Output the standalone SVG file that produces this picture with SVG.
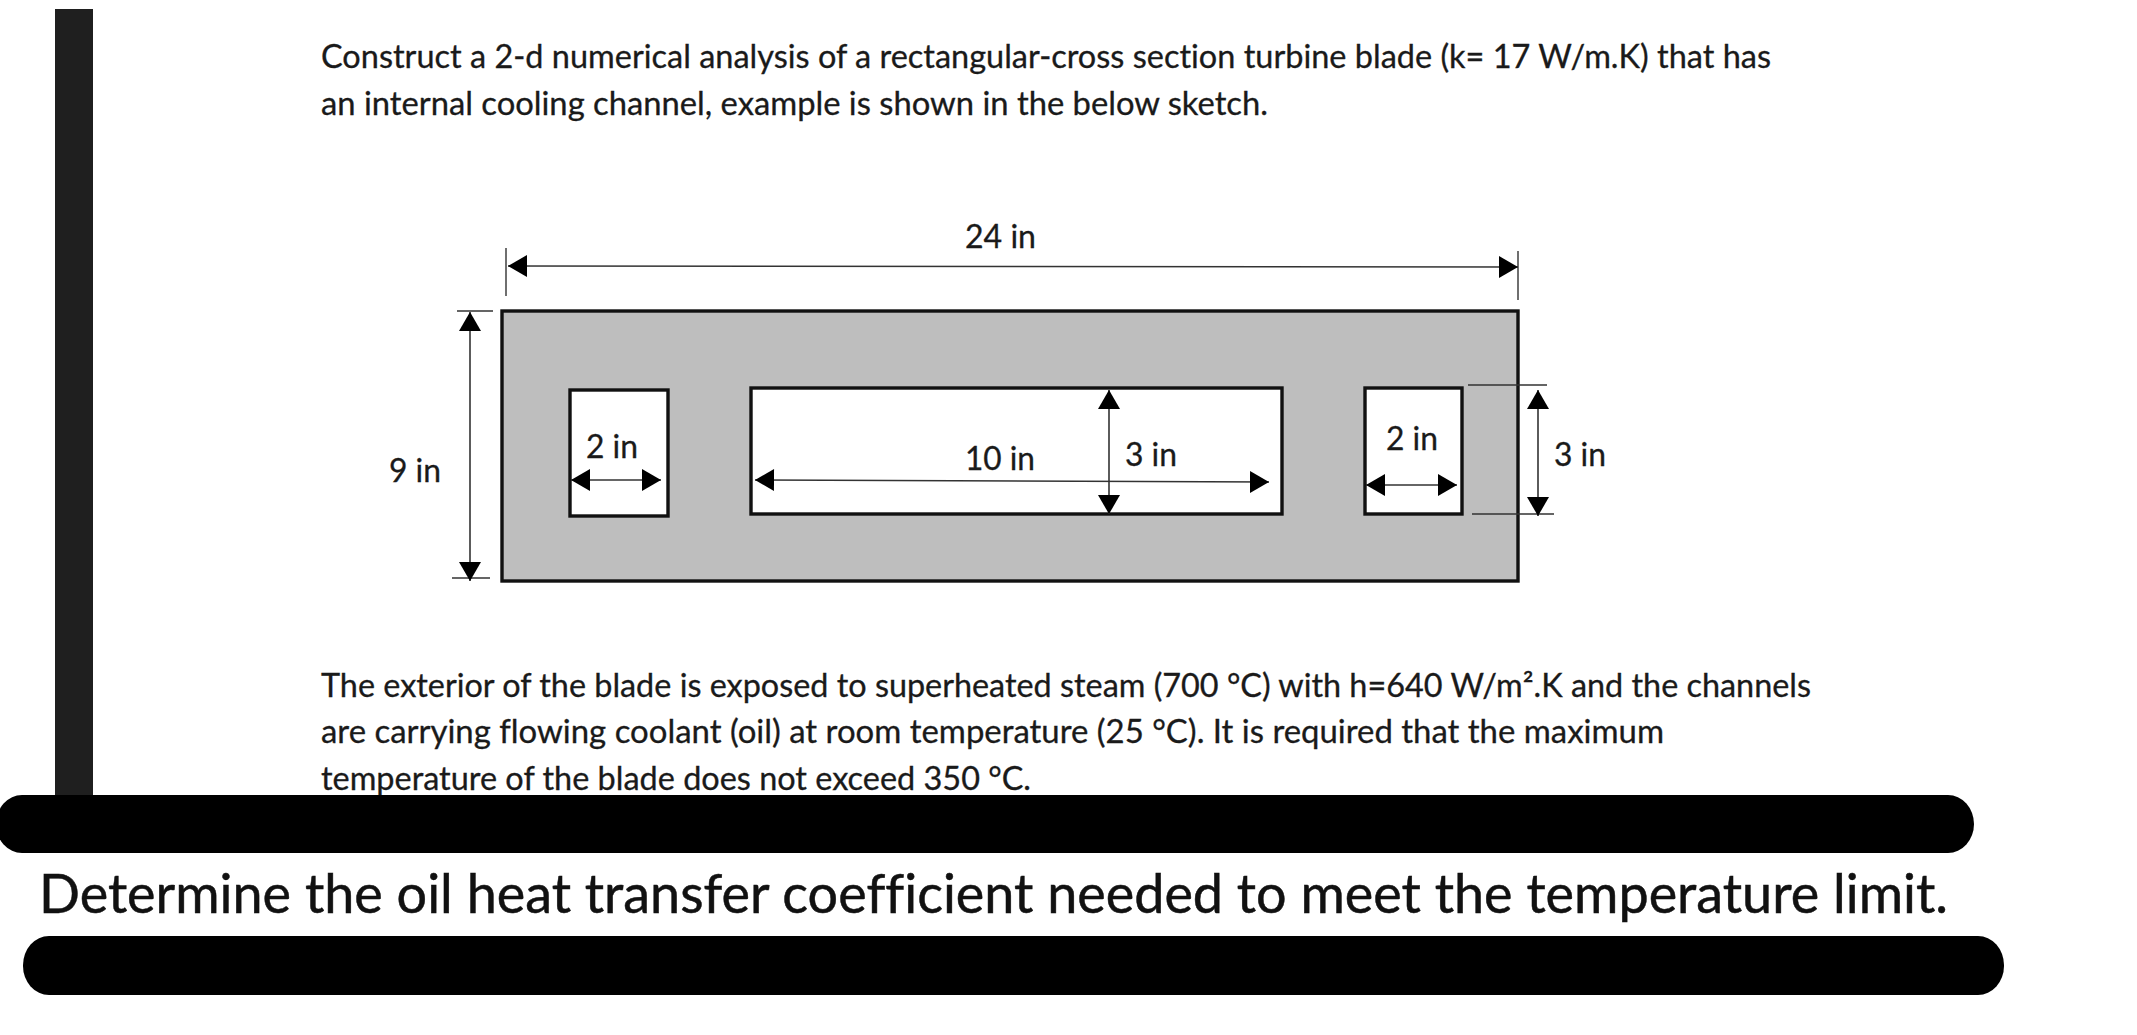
<svg xmlns="http://www.w3.org/2000/svg" width="2137" height="1035" viewBox="0 0 2137 1035">
<style>
text{font-family:Lato,"Open Sans","Liberation Sans",sans-serif;fill:#1a1a1a;stroke:#1a1a1a;stroke-width:.3;font-variant-ligatures:none}
.b{font-size:32px}
.l{font-size:32px}
.h{font-size:54px;fill:#111;stroke:#111;stroke-width:.5}
.box{fill:#fff;stroke:#111;stroke-width:3.4}
.dim{fill:none;stroke:#333;stroke-width:1.6;marker-start:url(#as);marker-end:url(#ae)}
.t{fill:none;stroke:#333;stroke-width:1.4}
</style>
<defs>
<marker id="ae" markerUnits="userSpaceOnUse" markerWidth="22" markerHeight="24" refX="19" refY="12" orient="auto"><path d="M0 1L19 12L0 23Z" fill="#000"/></marker>
<marker id="as" markerUnits="userSpaceOnUse" markerWidth="22" markerHeight="24" refX="0" refY="12" orient="auto"><path d="M19 1L0 12L19 23Z" fill="#000"/></marker>
</defs>
<rect width="2137" height="1035" fill="#fff"/>
<rect id="sidebar" x="55" y="9" width="38" height="790" fill="#1f1f1f"/>
<g id="intro">
<text class="b" x="321" y="68" textLength="1450" lengthAdjust="spacingAndGlyphs">Construct a 2-d numerical analysis of a rectangular-cross section turbine blade (k= 17 W/m.K) that has</text>
<text class="b" x="321" y="115" textLength="947" lengthAdjust="spacingAndGlyphs">an internal cooling channel, example is shown in the below sketch.</text>
</g>
<g id="blade"><rect x="502" y="311" width="1016" height="270" fill="#bebebe" stroke="#111" stroke-width="3.4"/></g>
<g id="channel-left"><rect class="box" x="570" y="390" width="98" height="126"/></g>
<g id="channel-center"><rect class="box" x="751" y="388" width="531" height="126"/></g>
<g id="channel-right"><rect class="box" x="1365" y="388" width="97" height="126"/></g>
<g id="connectors">
<path class="t" d="M506 248V296M1518 251V300M457 311H493M452 578H490M1468 385H1547M1472 514H1554"/>
<path class="dim" d="M508 266L1518 267"/>
<path class="dim" d="M470 312V581"/>
<path class="dim" d="M571 480H661"/>
<path class="dim" d="M755 480L1269 482"/>
<path class="dim" d="M1109 390V514"/>
<path class="dim" d="M1366 485H1457"/>
<path class="dim" d="M1538 390V516"/>
</g>
<g id="labels">
<text class="l" x="965" y="248" textLength="71" lengthAdjust="spacingAndGlyphs">24 in</text>
<text class="l" x="389" y="482" textLength="52" lengthAdjust="spacingAndGlyphs">9 in</text>
<text class="l" x="586" y="458" textLength="52" lengthAdjust="spacingAndGlyphs">2 in</text>
<text class="l" x="965" y="470" textLength="70" lengthAdjust="spacingAndGlyphs">10 in</text>
<text class="l" x="1125" y="466" textLength="52" lengthAdjust="spacingAndGlyphs">3 in</text>
<text class="l" x="1386" y="450" textLength="52" lengthAdjust="spacingAndGlyphs">2 in</text>
<text class="l" x="1554" y="466" textLength="52" lengthAdjust="spacingAndGlyphs">3 in</text>
</g>
<g id="body">
<text class="b" x="321" y="697" textLength="1490" lengthAdjust="spacingAndGlyphs">The exterior of the blade is exposed to superheated steam (700 °C) with h=640 W/m².K and the channels</text>
<text class="b" x="321" y="743" textLength="1343" lengthAdjust="spacingAndGlyphs">are carrying flowing coolant (oil) at room temperature (25 °C). It is required that the maximum</text>
<text class="b" x="321" y="790" textLength="710" lengthAdjust="spacingAndGlyphs">temperature of the blade does not exceed 350 °C.</text>
</g>
<g id="redactions">
<rect x="-4" y="795" width="1978" height="58" rx="26" ry="29" fill="#000"/>
<rect x="23" y="936" width="1981" height="59" rx="26" ry="29" fill="#000"/>
</g>
<g id="question"><text class="h" x="39" y="913" textLength="1909" lengthAdjust="spacingAndGlyphs">Determine the oil heat transfer coefficient needed to meet the temperature limit.</text></g>
</svg>
